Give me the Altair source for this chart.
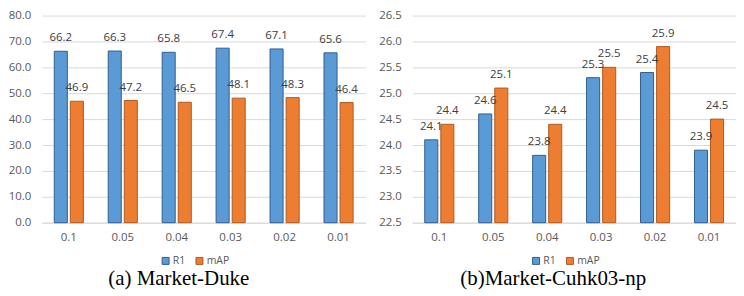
import altair as alt
import pandas as pd

cats = ["0.1", "0.05", "0.04", "0.03", "0.02", "0.01"]
series = ["R1", "mAP"]
duke_r1 = [66.2, 66.3, 65.8, 67.4, 67.1, 65.6]
duke_map = [46.9, 47.2, 46.5, 48.1, 48.3, 46.4]
cuhk_r1 = [24.1, 24.6, 23.8, 25.3, 25.4, 23.9]
cuhk_map = [24.4, 25.1, 24.4, 25.5, 25.9, 24.5]
duke_ticks = [0, 10, 20, 30, 40, 50, 60, 70, 80]
cuhk_ticks = [22.5, 23.0, 23.5, 24.0, 24.5, 25.0, 25.5, 26.0, 26.5]

FONT = "Open Sans"
TXT = "#595959"


def make_df(r1, mp):
    rows = []
    for c, a, b in zip(cats, r1, mp):
        rows.append({"cat": c, "series": "R1", "value": a})
        rows.append({"cat": c, "series": "mAP", "value": b})
    return pd.DataFrame(rows)


def panel(df, ticks, title, dx):
    ymin, ymax = ticks[0], ticks[-1]
    yenc = alt.Y("value:Q",
                 scale=alt.Scale(domain=[ymin, ymax], zero=False, nice=False),
                 axis=alt.Axis(title=None, values=ticks, format=".1f",
                               domain=False, ticks=False, grid=True,
                               gridColor="#D9D9D9", labelPadding=11,
                               labelOverlap=False,
                               labelFontSize=11.5, labelColor=TXT,
                               labelFont=FONT))
    base = alt.Chart(df).encode(
        x=alt.X("cat:N", sort=cats,
                scale=alt.Scale(paddingInner=0.46, paddingOuter=0.23),
                axis=alt.Axis(title=None, labelAngle=0, ticks=False, grid=False,
                              domain=True, domainColor="#D9D9D9",
                              labelPadding=9, labelFontSize=11.5,
                              labelColor=TXT, labelFont=FONT)),
        xOffset=alt.XOffset("series:N", sort=series,
                            scale=alt.Scale(paddingInner=0.1875, paddingOuter=0)),
        y=yenc,
    )
    leg = alt.Legend(title=None, orient="none", legendX=119, legendY=241,
                     direction="horizontal", symbolType="square",
                     symbolSize=49, labelFontSize=10.5, labelColor=TXT,
                     labelFont=FONT, columnPadding=8, labelOffset=2,
                     symbolStrokeWidth=1)
    bars = base.mark_bar(strokeWidth=1).encode(
        y2=alt.datum(ymin),
        color=alt.Color("series:N", sort=series,
                        scale=alt.Scale(domain=series, range=["#5B9BD5", "#ED7D31"]),
                        legend=leg),
        stroke=alt.Stroke("series:N", sort=series,
                          scale=alt.Scale(domain=series, range=["#2F5F8F", "#AE5A21"]),
                          legend=leg),
    )
    labels = base.mark_text(dy=-13, fontSize=11.5, font=FONT, color="#404040").encode(
        text=alt.Text("value:Q", format=".1f"),
    )
    return alt.layer(bars, labels).properties(
        width=325, height=208,
        title=alt.TitleParams(title, orient="bottom", font="Liberation Serif",
                              fontSize=21, fontWeight="normal", color="black",
                              dx=dx, offset=0, dy=2),
    )


left = panel(make_df(duke_r1, duke_map), duke_ticks, "(a) Market-Duke", -25)
right = panel(make_df(cuhk_r1, cuhk_map), cuhk_ticks, "(b)Market-Cuhk03-np", -21)

chart = alt.hconcat(left, right, spacing=13).resolve_scale(
    y="independent"
).resolve_legend(color="independent", stroke="independent").properties(
    padding={"left": 0, "top": 1, "right": 0, "bottom": 0}
).configure_view(stroke=None)

chart.save("out.html", embed_options={"renderer": "svg", "actions": False})
